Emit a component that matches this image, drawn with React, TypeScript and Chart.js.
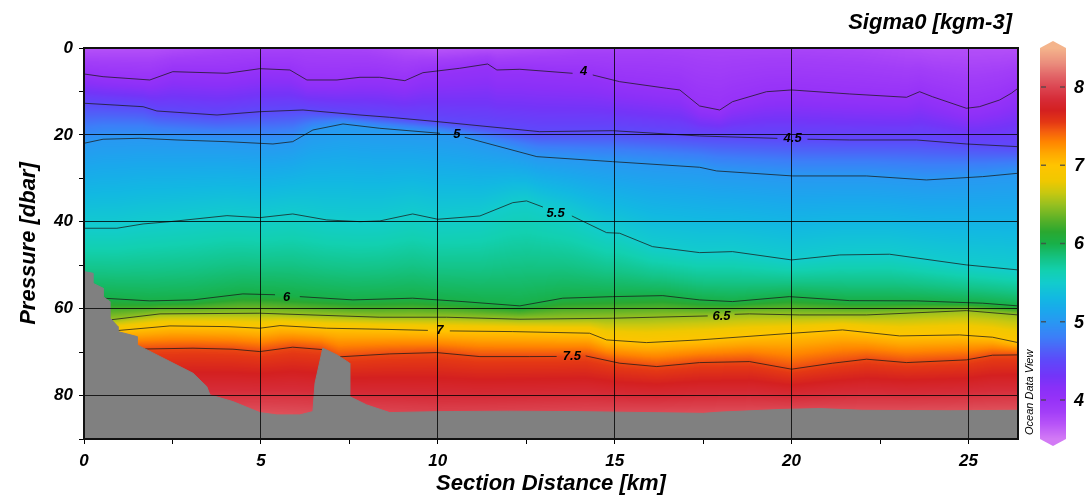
import { useEffect, useRef } from 'react';
import { Chart, registerables } from 'chart.js';

Chart.register(...registerables);

const FONT = '"Liberation Sans", Arial, sans-serif';

// ---------- axes ----------
const xRange = [0, 26.4];
const yRange = [0, 90];
const colorRange = [3.5, 8.5];
const colorTicks = [4, 5, 6, 7, 8];

// ---------- contour levels & isoline depths [km, dbar] (null = label gap) ----------
const contourLevels = [4, 4.5, 5, 5.5, 6, 6.5, 7, 7.5];

const iso40: [number, number | null][] = [[0,5.98],[0.54,6.6],[1.86,7.36],[2.51,5.45],[4.04,5.82],[4.97,4.76],[5.82,5.06],[6.3,7.36],[7.15,7.36],[7.8,6.74],[8.36,6.74],[9.07,7.52],[9.58,5.68],[10.62,4.67],[11.41,3.68],[11.67,5.06],[12.32,4.9],[13.81,5.82],[14.12,null],[14.38,6.21],[15.14,7.75],[16.47,9.27],[16.84,9.66],[17.4,13.35],[17.97,14.27],[18.33,12.36],[19.29,10.06],[20.0,9.66],[21.64,10.58],[23.25,11.34],[23.62,10.06],[23.98,11.21],[24.94,13.87],[25.31,13.51],[25.88,11.97],[26.21,10.42],[26.4,9.27]];
const iso45: [number, number | null][] = [[0,12.72],[1.67,13.51],[2.06,14.5],[3.76,15.42],[4.97,14.66],[6.19,14.27],[7.8,15.42],[8.64,15.95],[10.0,16.96],[12.88,19.26],[14.94,19.03],[17.4,20.25],[19.6,20.8],[20.03,null],[20.45,21.0],[21.64,21.17],[23.53,21.17],[24.94,22.09],[26.4,22.71]];
const iso50: [number, number | null][] = [[0,21.93],[0.54,21.0],[1.58,20.78],[2.63,21.17],[4.04,21.56],[5.34,22.09],[5.9,21.56],[6.47,18.87],[7.32,17.49],[8.36,18.48],[10.06,19.63],[10.54,null],[10.76,20.55],[12.8,25.01],[14.94,26.16],[17.4,27.45],[17.88,28.3],[20.03,29.45],[22.12,29.45],[23.81,30.37],[25.4,29.61],[26.4,28.83]];
const iso55: [number, number | null][] = [[0,41.49],[0.93,41.49],[1.67,40.5],[2.43,39.97],[4.04,38.59],[4.97,39.05],[5.9,38.2],[6.86,39.58],[7.8,39.97],[8.36,39.81],[9.29,38.2],[10.0,39.42],[11.19,38.66],[12.12,35.6],[12.51,35.2],[12.97,36.6],[13.33,null],[13.79,38.66],[14.77,42.5],[15.14,42.64],[16.07,45.72],[17.4,47.1],[18.33,46.87],[20.0,48.78],[21.36,47.63],[22.77,47.47],[24.94,49.93],[26.4,51.08]];
const iso60: [number, number | null][] = [[0.54,57.59],[1.86,58.21],[3.08,57.98],[4.49,56.6],[5.4,56.8],[5.73,null],[6.1,57.23],[7.6,57.98],[9.29,57.59],[10.71,58.37],[12.32,59.36],[13.53,57.59],[14.94,57.23],[16.36,57.0],[17.4,57.98],[18.33,58.37],[19.94,57.23],[21.64,58.15],[23.53,58.21],[25.4,58.74],[26.4,59.36]];
const iso65: [number, number | null][] = [[0.73,62.59],[2.15,61.2],[4.97,61.05],[8.36,61.97],[10.25,61.97],[12.32,62.43],[14.94,62.2],[17.63,61.67],[18.02,null],[18.39,61.3],[18.81,61.2],[20.23,61.44],[22.12,61.44],[24.94,60.45],[26.4,61.44]];
const iso70: [number, number | null][] = [[0.93,65.05],[2.43,63.97],[4.04,64.13],[4.97,64.5],[5.54,63.9],[6.86,64.5],[8.36,64.73],[9.72,65.0],[10.06,null],[10.34,65.12],[12.12,65.28],[14.29,65.65],[14.77,67.19],[15.9,67.81],[17.4,67.19],[20.03,65.65],[21.44,64.89],[23.05,66.27],[24.75,66.04],[25.68,66.57],[26.4,67.81]];
const iso75: [number, number | null][] = [[1.6,69.3],[3.08,69.1],[4.21,69.33],[4.97,69.88],[5.9,68.87],[6.72,69.4],[7.2,71.1],[8.64,70.41],[9.97,70.11],[11.19,71.03],[12.6,71.03],[13.36,71.0],[13.79,null],[14.18,70.87],[15.14,72.55],[16.19,73.33],[17.4,72.41],[18.81,72.18],[20.0,73.93],[21.16,72.55],[22.12,71.63],[23.25,72.41],[24.94,71.79],[25.68,70.71],[26.4,70.64]];

const contourLabelText = ['4', '4.5', '5', '5.5', '6', '6.5', '7', '7.5'];
const contourLabelKm = [14.12, 20.03, 10.54, 13.33, 5.73, 18.02, 10.06, 13.79];
const contourLabelDbar = [5.5, 20.9, 20.0, 38.0, 57.5, 61.7, 65.1, 71.0];

// ---------- surface and near-floor values ----------
const surfaceKm = [0, 2, 4, 6, 8, 10, 12, 14, 16, 18, 20, 22, 24, 26.4];
const surfaceVal = [3.7, 3.72, 3.8, 3.82, 3.8, 3.68, 3.72, 3.8, 3.82, 3.8, 3.8, 3.78, 3.72, 3.72];
const floorDbar = 84;
const floorKm = [0, 5, 10, 15, 20, 26.4];
const floorVal = [8.0, 8.05, 7.98, 8.02, 8.05, 8.08];

// ---------- bottom topography [km, dbar] ----------
const bottomProfile: [number, number][] = [[0,51.47],[0.25,51.84],[0.25,54.14],[0.54,55.29],[0.54,57.23],[0.73,58.37],[0.73,62.1],[0.96,64.13],[0.96,65.28],[1.5,66.43],[1.5,68.34],[1.78,69.49],[2.43,72.18],[3.08,74.85],[3.47,77.93],[3.56,79.84],[4.21,81.39],[4.97,83.92],[5.45,84.45],[6.1,84.45],[6.47,83.69],[6.53,77.15],[6.75,69.1],[7.15,70.64],[7.51,72.55],[7.51,80.24],[7.99,82.15],[8.64,83.92],[10,83.7],[12,83.6],[14,83.7],[17.5,84.1],[18,83.8],[19.7,83.2],[20.8,83.0],[22,83.4],[24.5,83.5],[26.4,83.4]];

// ---------- colour map ----------
const cmapValues = [3.5, 3.7, 3.85, 4.0, 4.15, 4.3, 4.5, 4.65, 4.8, 5.0, 5.15, 5.3, 5.5, 5.65, 5.8, 6.0, 6.15, 6.3, 6.5, 6.65, 6.8, 7.0, 7.15, 7.3, 7.45, 7.55, 7.7, 7.85, 8.0, 8.15, 8.3, 8.5];
const cmapColors = ['#d27af5', '#b652f8', '#a23ef8', '#9632f8', '#8a30f8', '#7434f8', '#5e48fa', '#4e62f8', '#3c7ef8', '#2898f2', '#1aa8ec', '#12b8e2', '#12cccc', '#12d0b0', '#14c488', '#18b048', '#2aa830', '#58b028', '#98c020', '#c8c810', '#f0c800', '#ffc400', '#ffa800', '#ff8400', '#f25810', '#e43814', '#d42020', '#d62c38', '#dc4652', '#e26668', '#ea8c7c', '#f4b48c'];

const contours = [iso40, iso45, iso50, iso55, iso60, iso65, iso70, iso75];

function hexRgb(h: string): number[] {
  const n = parseInt(h.slice(1), 16);
  return [(n >> 16) & 255, (n >> 8) & 255, n & 255];
}
const cmapRgb = cmapColors.map(hexRgb);

function colorAt(v: number): number[] {
  if (v <= cmapValues[0]) return cmapRgb[0];
  const last = cmapValues.length - 1;
  if (v >= cmapValues[last]) return cmapRgb[last];
  for (let i = 1; i <= last; i++) {
    if (v <= cmapValues[i]) {
      const t = (v - cmapValues[i - 1]) / (cmapValues[i] - cmapValues[i - 1]);
      const a = cmapRgb[i - 1], b = cmapRgb[i];
      return [a[0] + (b[0] - a[0]) * t, a[1] + (b[1] - a[1]) * t, a[2] + (b[2] - a[2]) * t];
    }
  }
  return cmapRgb[last];
}
function cssColor(v: number): string {
  const c = colorAt(v);
  return `rgb(${Math.round(c[0])},${Math.round(c[1])},${Math.round(c[2])})`;
}

function lerpSeries(xs: number[], ys: number[], x: number): number {
  if (x <= xs[0]) return ys[0];
  for (let i = 1; i < xs.length; i++) {
    if (x <= xs[i]) return ys[i - 1] + (ys[i] - ys[i - 1]) * (x - xs[i - 1]) / (xs[i] - xs[i - 1]);
  }
  return ys[ys.length - 1];
}
function depthAt(pts: [number, number | null][], km: number): number {
  const v = pts.filter((p) => p[1] !== null) as [number, number][];
  return lerpSeries(v.map((p) => p[0]), v.map((p) => p[1]), km);
}

// LUT for speed
const LUT_N = 1024, LUT_MIN = 3.3, LUT_MAX = 8.7;
const lut = new Uint8ClampedArray(LUT_N * 3);
for (let i = 0; i < LUT_N; i++) {
  const c = colorAt(LUT_MIN + (LUT_MAX - LUT_MIN) * i / (LUT_N - 1));
  lut[i * 3] = c[0]; lut[i * 3 + 1] = c[1]; lut[i * 3 + 2] = c[2];
}

const fieldPlugin = {
  id: 'sectionField',
  beforeDatasetsDraw(chart: any) {
    const { ctx, chartArea, scales } = chart;
    const xs = scales.x, ys = scales.y;
    const L = Math.floor(chartArea.left), T = Math.floor(chartArea.top);
    const W = Math.ceil(chartArea.right) - L, H = Math.ceil(chartArea.bottom) - T;
    const off = document.createElement('canvas');
    off.width = W; off.height = H;
    const octx = off.getContext('2d')!;
    const img = octx.createImageData(W, H);
    const rowDb = new Float64Array(H);
    for (let j = 0; j < H; j++) rowDb[j] = ys.getValueForPixel(T + j + 0.5);
    const kd: number[] = [], kv: number[] = [];
    for (let i = 0; i < W; i++) {
      const km = xs.getValueForPixel(L + i + 0.5);
      kd.length = 0; kv.length = 0;
      kd.push(0); kv.push(lerpSeries(surfaceKm, surfaceVal, km));
      contours.forEach((c, ci) => {
        let d = depthAt(c, km);
        if (d <= kd[kd.length - 1]) d = kd[kd.length - 1] + 0.01;
        kd.push(d); kv.push(contourLevels[ci]);
      });
      const fv = lerpSeries(floorKm, floorVal, km);
      kd.push(Math.max(floorDbar, kd[kd.length - 1] + 0.01)); kv.push(fv);
      kd.push(200); kv.push(fv + 0.05);
      let k = 1;
      for (let j = 0; j < H; j++) {
        const d = rowDb[j];
        while (k < kd.length - 1 && d > kd[k]) k++;
        let t = (d - kd[k - 1]) / (kd[k] - kd[k - 1]);
        if (t < 0) t = 0; if (t > 1) t = 1;
        const v = kv[k - 1] + (kv[k] - kv[k - 1]) * t;
        let li = Math.round((v - LUT_MIN) / (LUT_MAX - LUT_MIN) * (LUT_N - 1));
        if (li < 0) li = 0; if (li >= LUT_N) li = LUT_N - 1;
        const p = (j * W + i) * 4;
        img.data[p] = lut[li * 3]; img.data[p + 1] = lut[li * 3 + 1]; img.data[p + 2] = lut[li * 3 + 2]; img.data[p + 3] = 255;
      }
    }
    octx.putImageData(img, 0, 0);
    ctx.save();
    ctx.drawImage(off, L, T);
    ctx.restore();
  },
  afterDraw(chart: any) {
    const { ctx, chartArea, scales } = chart;
    const xs = scales.x, ys = scales.y, cs = scales.c;
    ctx.save();
    // contour labels
    ctx.fillStyle = '#000';
    ctx.font = `italic bold 13px ${FONT}`;
    ctx.textAlign = 'center';
    ctx.textBaseline = 'middle';
    contourLabelText.forEach((t, i) => {
      ctx.fillText(t, xs.getPixelForValue(contourLabelKm[i]), ys.getPixelForValue(contourLabelDbar[i]));
    });
    // frame
    ctx.strokeStyle = '#111';
    ctx.lineWidth = 2;
    ctx.strokeRect(chartArea.left, chartArea.top, chartArea.right - chartArea.left, chartArea.bottom - chartArea.top);
    // colour bar
    const barL = chartArea.right + 22, barR = chartArea.right + 48, barM = (barL + barR) / 2;
    const yTop = cs.getPixelForValue(colorRange[1]), yBot = cs.getPixelForValue(colorRange[0]);
    for (let py = Math.floor(yTop); py < Math.ceil(yBot); py++) {
      ctx.fillStyle = cssColor(cs.getValueForPixel(py + 0.5));
      ctx.fillRect(barL, py, barR - barL, 1);
    }
    ctx.fillStyle = cssColor(colorRange[1]);
    ctx.beginPath(); ctx.moveTo(barL, yTop); ctx.lineTo(barM, yTop - 7); ctx.lineTo(barR, yTop); ctx.closePath(); ctx.fill();
    ctx.fillStyle = cssColor(colorRange[0]);
    ctx.beginPath(); ctx.moveTo(barL, yBot); ctx.lineTo(barM, yBot + 7); ctx.lineTo(barR, yBot); ctx.closePath(); ctx.fill();
    ctx.strokeStyle = 'rgba(70,70,70,0.8)';
    ctx.lineWidth = 1.5;
    ctx.fillStyle = '#000';
    ctx.font = `italic bold 18px ${FONT}`;
    ctx.textAlign = 'left';
    ctx.textBaseline = 'middle';
    colorTicks.forEach((v) => {
      const py = cs.getPixelForValue(v);
      ctx.beginPath();
      ctx.moveTo(barL + 1, py); ctx.lineTo(barL + 6, py);
      ctx.moveTo(barR - 6, py); ctx.lineTo(barR - 1, py);
      ctx.stroke();
      ctx.fillText(String(v), barR + 8, py + 1);
    });
    // title
    ctx.fillStyle = '#000';
    ctx.font = `italic bold 22px ${FONT}`;
    ctx.textAlign = 'right';
    ctx.textBaseline = 'alphabetic';
    ctx.fillText('Sigma0 [kgm-3]', chartArea.right - 6, 29);
    // watermark
    ctx.font = `italic 11px ${FONT}`;
    ctx.textAlign = 'left';
    ctx.textBaseline = 'middle';
    ctx.translate(chartArea.right + 12, chartArea.bottom - 4);
    ctx.rotate(-Math.PI / 2);
    ctx.fillText('Ocean Data View', 0, 0);
    ctx.restore();
  },
};

function isMultiple(v: number, m: number) {
  return Math.abs(v / m - Math.round(v / m)) < 1e-6;
}

export default function App() {
  const ref = useRef<HTMLCanvasElement>(null);
  useEffect(() => {
    const tickFont = { family: FONT, size: 17, weight: 'bold' as const, style: 'italic' as const };
    const titleFont = { family: FONT, size: 22, weight: 'bold' as const, style: 'italic' as const };
    const contourSets = contours.map((c, i) => ({
      type: 'line' as const,
      label: `σ0 = ${contourLevels[i]}`,
      data: c.map(([x, y]) => ({ x, y })),
      borderColor: 'rgba(25,25,25,0.75)',
      borderWidth: 1,
      pointRadius: 0,
      fill: false,
      tension: 0,
      order: 1,
    }));
    const chart = new Chart(ref.current!, {
      type: 'line',
      data: {
        datasets: [
          {
            label: 'Bottom',
            data: bottomProfile.map(([x, y]) => ({ x, y })),
            borderColor: '#808080',
            backgroundColor: '#808080',
            borderWidth: 1,
            pointRadius: 0,
            fill: { value: yRange[1] },
            tension: 0,
            order: 0,
          } as any,
          ...contourSets,
        ],
      },
      options: {
        responsive: false,
        animation: false,
        events: [],
        layout: { padding: { left: 0, right: 0, top: 48, bottom: 0 }, autoPadding: false },
        plugins: { legend: { display: false }, tooltip: { enabled: false }, title: { display: false } },
        scales: {
          x: {
            type: 'linear',
            position: 'bottom',
            min: xRange[0],
            max: xRange[1],
            afterFit: (s: any) => { s.height = 59; },
            ticks: {
              stepSize: 2.5,
              includeBounds: false,
              autoSkip: false,
              maxRotation: 0,
              padding: 7,
              color: '#000',
              font: tickFont,
              z: 1,
              callback: (v: any) => (isMultiple(Number(v), 5) ? String(v) : ''),
            },
            grid: {
              z: 1,
              lineWidth: 1,
              color: (c: any) => (c.tick && isMultiple(c.tick.value, 5) ? 'rgba(0,0,0,0.8)' : 'rgba(0,0,0,0)'),
              tickColor: '#000',
              tickLength: 5,
            },
            border: { display: false },
            title: { display: true, text: 'Section Distance [km]', color: '#000', font: titleFont, padding: { top: 0, bottom: 1 } },
          },
          y: {
            type: 'linear',
            position: 'left',
            reverse: true,
            min: yRange[0],
            max: yRange[1],
            afterFit: (s: any) => { s.width = 84; },
            ticks: {
              stepSize: 10,
              padding: 6,
              color: '#000',
              font: tickFont,
              z: 1,
              callback: (v: any) => (isMultiple(Number(v), 20) ? String(v) : ''),
            },
            grid: {
              z: 1,
              lineWidth: 1,
              color: (c: any) => (c.tick && isMultiple(c.tick.value, 20) ? 'rgba(0,0,0,0.8)' : 'rgba(0,0,0,0)'),
              tickColor: '#000',
              tickLength: 5,
            },
            border: { display: false },
            title: { display: true, text: 'Pressure [dbar]', color: '#000', font: titleFont, padding: { top: 16, bottom: 0 } },
          },
          c: {
            type: 'linear',
            position: 'right',
            min: colorRange[0],
            max: colorRange[1],
            afterFit: (s: any) => { s.width = 73; },
            ticks: { stepSize: 1, includeBounds: false, display: false },
            grid: { display: false },
            border: { display: false },
          },
        },
      },
      plugins: [fieldPlugin],
    } as any);
    return () => chart.destroy();
  }, []);
  return (
    <div style={{ position: 'absolute', left: 0, top: 0, width: 1091, height: 498, background: '#fff' }}>
      <canvas ref={ref} width={1091} height={498} style={{ display: 'block', width: 1091, height: 498 }} />
    </div>
  );
}
